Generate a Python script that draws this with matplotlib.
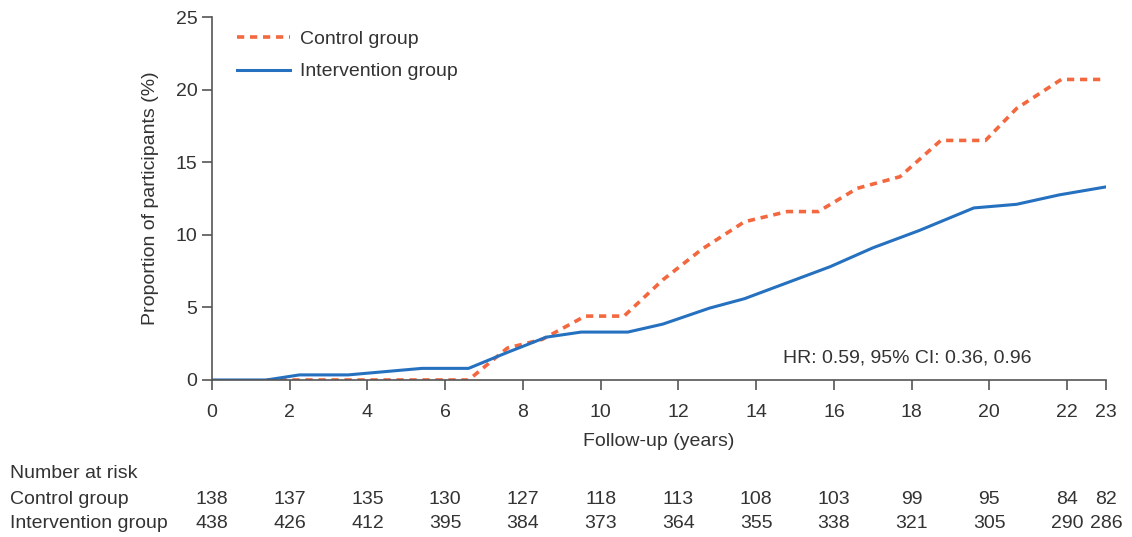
import numpy as np
import matplotlib.pyplot as plt
from matplotlib import transforms

plt.rcParams['font.family'] = ['Liberation Sans', 'DejaVu Sans']

# cumulative incidence curves (years, %)
control_t = [1.4, 6.6, 7.6, 8.5, 9.6, 10.6, 11.6, 12.6, 13.7, 14.8, 15.6, 16.6, 17.7, 18.75, 19.9, 20.7, 21.85, 23.0]
control_p = [0.0, 0.0, 2.2, 2.8, 4.4, 4.4, 6.9, 9.0, 10.9, 11.6, 11.6, 13.2, 14.0, 16.5, 16.5, 18.7, 20.7, 20.7]

interv_t = [0.0, 1.4, 2.25, 3.5, 5.4, 6.6, 7.6, 8.6, 9.5, 10.7, 11.6, 12.8, 13.7, 14.8, 15.9, 17.0, 18.2, 19.6, 20.7, 21.8, 23.0]
interv_p = [0.0, 0.0, 0.35, 0.35, 0.8, 0.8, 1.9, 2.95, 3.3, 3.3, 3.85, 4.95, 5.6, 6.7, 7.8, 9.1, 10.3, 11.85, 12.1, 12.75, 13.3]

# number at risk table
risk_years = [0, 2, 4, 6, 8, 10, 12, 14, 16, 18, 20, 22, 23]
risk_control = [138, 137, 135, 130, 127, 118, 113, 108, 103, 99, 95, 84, 82]
risk_interv = [438, 426, 412, 395, 384, 373, 364, 355, 338, 321, 305, 290, 286]

orange = '#f4683f'
blue = '#2571c0'
grey = '#555555'
txt = '#333333'

fig = plt.figure(figsize=(11.32, 5.37), dpi=100)
ax = fig.add_axes([0.1873, 0.2924, 0.977 - 0.1873, 0.9683 - 0.2924])

ax.plot(control_t, control_p, color=orange, lw=2.6, ls=(0, (2, 1.6)), label='Control group')
ax.plot(interv_t, interv_p, color=blue, lw=2.2, label='Intervention group')

ax.set_xlim(0, 23)
ax.set_ylim(0, 25)
ax.set_xticks(risk_years)
ax.set_yticks([0, 5, 10, 15, 20, 25])
for s in ['top', 'right']:
    ax.spines[s].set_visible(False)
for s in ['left', 'bottom']:
    ax.spines[s].set_color(grey)
    ax.spines[s].set_linewidth(1.2)
ax.tick_params(direction='out', length=7, width=1.2, color=grey, labelsize=14, labelcolor=txt)
ax.tick_params(axis='x', pad=10)
ax.tick_params(axis='y', pad=3.5)

ax.set_xlabel('Follow-up (years)', fontsize=14, color=txt, labelpad=9)
ax.set_ylabel('Proportion of participants (%)', fontsize=14, color=txt, labelpad=12)

ax.legend(loc='upper left', bbox_to_anchor=(0.008, 1.011), frameon=False, fontsize=14,
          handlelength=2.75, handletextpad=0.5, labelspacing=0.75, labelcolor=txt)

ax.text(17.9, 1.5, 'HR: 0.59, 95% CI: 0.36, 0.96', fontsize=14, color=txt, ha='center', va='center')

# number at risk rows
trans = transforms.blended_transform_factory(ax.transData, fig.transFigure)
fig.text(10 / 1132, 1 - 473 / 537, 'Number at risk', fontsize=14, color=txt, va='center')
fig.text(10 / 1132, 1 - 500 / 537, 'Control group', fontsize=14, color=txt, va='center')
fig.text(10 / 1132, 1 - 524 / 537, 'Intervention group', fontsize=14, color=txt, va='center')
for yr, c, i in zip(risk_years, risk_control, risk_interv):
    ax.text(yr, 1 - 500 / 537, str(c), transform=trans, fontsize=14, color=txt, ha='center', va='center', clip_on=False)
    ax.text(yr, 1 - 524 / 537, str(i), transform=trans, fontsize=14, color=txt, ha='center', va='center', clip_on=False)

fig.savefig('out.png', dpi=100)
